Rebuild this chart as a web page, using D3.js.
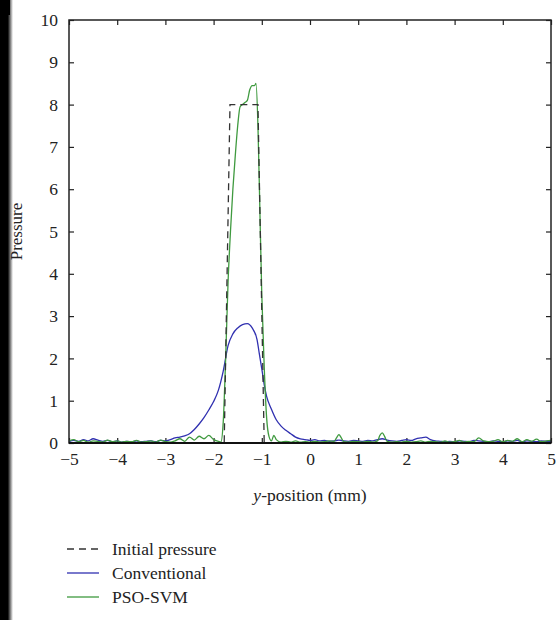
<!DOCTYPE html>
<html><head><meta charset="utf-8">
<script src="https://cdn.jsdelivr.net/npm/d3@7"></script>
<style>body{margin:0;background:#fff;}svg{display:block;}</style>
</head><body>
<svg id="c" width="556" height="620"></svg>
<script>
const xTicks = [-5,-4,-3,-2,-1,0,1,2,3,4,5];
const yTicks = [0,1,2,3,4,5,6,7,8,9,10];
const seriesNames = ["Initial pressure","Conventional","PSO-SVM"];

const initialX = [-5,-1.78,-1.66,-1.08,-0.95,5];
const initialY = [0,0,8,8,0,0];

const convX = [-5,-4.9,-4.8,-4.7,-4.6,-4.5,-4.4,-4.3,-4.2,-4.1,-4,-3.9,-3.8,-3.7,-3.6,-3.5,-3.4,-3.3,-3.2,-3.1,-3,-2.9,-2.8,-2.7,-2.6,-2.5,-2.4,-2.3,-2.2,-2.1,-2,-1.9,-1.8,-1.7,-1.6,-1.5,-1.4,-1.3,-1.2,-1.1,-1.05,-1,-0.95,-0.9,-0.8,-0.7,-0.6,-0.5,-0.4,-0.3,-0.2,-0.1,0,0.1,0.2,0.3,0.4,0.5,0.6,0.7,0.8,0.9,1,1.1,1.2,1.3,1.4,1.5,1.6,1.7,1.8,1.9,2,2.1,2.2,2.3,2.4,2.5,2.6,2.7,2.8,2.9,3,3.1,3.2,3.3,3.4,3.5,3.6,3.7,3.8,3.9,4,4.1,4.2,4.3,4.4,4.5,4.6,4.7,4.8,4.9,5];
const convY = [0.03,0.06,0.04,0.08,0.05,0.1,0.07,0.04,0.06,0.03,0.05,0.02,0.04,0.03,0.05,0.03,0.04,0.05,0.03,0.06,0.05,0.08,0.12,0.14,0.17,0.22,0.32,0.45,0.6,0.78,0.98,1.25,1.7,2.3,2.58,2.72,2.8,2.82,2.72,2.45,2.1,1.75,1.38,1.1,0.8,0.55,0.4,0.3,0.22,0.14,0.1,0.08,0.06,0.08,0.05,0.06,0.04,0.05,0.07,0.05,0.04,0.06,0.05,0.04,0.06,0.05,0.08,0.1,0.07,0.05,0.04,0.06,0.08,0.06,0.1,0.12,0.14,0.08,0.05,0.04,0.03,0.04,0.03,0.05,0.04,0.03,0.06,0.05,0.04,0.03,0.05,0.04,0.03,0.05,0.04,0.06,0.03,0.05,0.04,0.03,0.05,0.04,0.03];

const psoX = [-5,-4.9,-4.8,-4.7,-4.6,-4.5,-4.4,-4.3,-4.2,-4.1,-4,-3.9,-3.8,-3.7,-3.6,-3.5,-3.4,-3.3,-3.2,-3.1,-3,-2.9,-2.8,-2.7,-2.6,-2.5,-2.4,-2.3,-2.2,-2.1,-2,-1.9,-1.85,-1.8,-1.75,-1.7,-1.65,-1.6,-1.55,-1.5,-1.45,-1.4,-1.35,-1.3,-1.25,-1.2,-1.15,-1.12,-1.08,-1.04,-1,-0.95,-0.9,-0.85,-0.8,-0.75,-0.7,-0.6,-0.5,-0.4,-0.3,-0.2,-0.1,0,0.1,0.2,0.3,0.4,0.5,0.55,0.6,0.65,0.7,0.8,0.9,1,1.1,1.2,1.3,1.4,1.45,1.5,1.55,1.6,1.7,1.8,1.9,2,2.1,2.2,2.3,2.4,2.5,2.6,2.7,2.8,2.9,3,3.1,3.2,3.3,3.4,3.5,3.6,3.7,3.8,3.9,4,4.1,4.2,4.3,4.4,4.5,4.6,4.7,4.8,4.9,5];
const psoY = [0.05,0.08,0.03,0.06,0.02,0.05,0.04,0.02,0.07,0.03,0.05,0.02,0.04,0.03,0.06,0.02,0.03,0.05,0.02,0.07,0.03,0.02,0.05,0.1,0.04,0.14,0.07,0.16,0.1,0.18,0.08,0.04,0.02,0.5,2.0,3.8,5.0,6.0,6.8,7.5,7.95,8.0,8.05,8.1,8.35,8.45,8.45,8.5,7.5,5.5,3.5,1.8,0.6,0.15,0.05,0.18,0.08,0.02,0.04,0.02,0.05,0.02,0.03,0.02,0.04,0.02,0.03,0.05,0.04,0.12,0.2,0.12,0.03,0.02,0.04,0.03,0.02,0.04,0.02,0.05,0.18,0.24,0.15,0.04,0.02,0.03,0.02,0.04,0.02,0.03,0.05,0.02,0.04,0.03,0.02,0.05,0.02,0.03,0.06,0.02,0.04,0.03,0.12,0.05,0.03,0.04,0.08,0.03,0.06,0.04,0.1,0.03,0.08,0.04,0.09,0.03,0.05,0.06];

const svg = d3.select("#c");
const W = 556, H = 620;
const L = 69, R = 551, T = 20, B = 443;
const x = d3.scaleLinear().domain([-5,5]).range([L,R]);
const y = d3.scaleLinear().domain([0,10]).range([B,T]);
const font = "'Liberation Serif','Times New Roman',serif";

// left dark bar
const defs = svg.append("defs");
const g1 = defs.append("linearGradient").attr("id","bar").attr("x1","0").attr("x2","1");
g1.append("stop").attr("offset","0").attr("stop-color","#000");
g1.append("stop").attr("offset","0.6").attr("stop-color","#000");
g1.append("stop").attr("offset","1").attr("stop-color","#fff");
svg.append("rect").attr("x",0).attr("y",0).attr("width",13).attr("height",H).attr("fill","url(#bar)");
svg.append("rect").attr("x",0).attr("y",0).attr("width",10).attr("height",15).attr("fill","#000");

const clip = defs.append("clipPath").attr("id","pc");
clip.append("rect").attr("x",L).attr("y",T).attr("width",R-L).attr("height",B-T);

// axes (inward ticks)
const tick = 5;
const axB = svg.append("g").attr("transform",`translate(0,${B})`)
  .call(d3.axisBottom(x).tickValues(xTicks).tickSize(-tick).tickPadding(10).tickFormat(d => d < 0 ? "\u2212" + Math.abs(d) : d));
const axT = svg.append("g").attr("transform",`translate(0,${T})`)
  .call(d3.axisTop(x).tickValues(xTicks).tickSize(-tick).tickFormat(""));
const axL = svg.append("g").attr("transform",`translate(${L},0)`)
  .call(d3.axisLeft(y).tickValues(yTicks).tickSize(-tick).tickPadding(11));
const axR = svg.append("g").attr("transform",`translate(${R},0)`)
  .call(d3.axisRight(y).tickValues(yTicks).tickSize(-tick).tickFormat(""));
[axB,axT,axL,axR].forEach(a => {
  a.select(".domain").remove();
  a.selectAll(".tick line").attr("stroke","#222").attr("stroke-width",1.2);
  a.selectAll("text").attr("font-family",font).attr("font-size",17.5).attr("fill","#222");
});

const line = d3.line().x(d => x(d[0])).y(d => y(d[1]));
const smooth = d3.line().x(d => x(d[0])).y(d => y(d[1])).curve(d3.curveMonotoneX);
const plot = svg.append("g").attr("clip-path","url(#pc)");
plot.append("path").datum(convX.map((v,i)=>[v,convY[i]]))
  .attr("d",smooth).attr("fill","none").attr("stroke","#3030b0").attr("stroke-width",1.3);
plot.append("path").datum(psoX.map((v,i)=>[v,psoY[i]]))
  .attr("d",smooth).attr("fill","none").attr("stroke","#3f9a3f").attr("stroke-width",1.3);
plot.append("path").datum(initialX.map((v,i)=>[v,initialY[i]]))
  .attr("d",line).attr("fill","none").attr("stroke","#333").attr("stroke-width",1.3).attr("stroke-dasharray","7,5");

// frame
svg.append("rect").attr("x",L).attr("y",T).attr("width",R-L).attr("height",B-T)
  .attr("fill","none").attr("stroke","#222").attr("stroke-width",1.5);
svg.append("line").attr("x1",L).attr("x2",R).attr("y1",B).attr("y2",B).attr("stroke","#111").attr("stroke-width",2);

// axis titles
svg.append("text").attr("transform",`translate(22,${(T+B)/2}) rotate(-90)`)
  .attr("text-anchor","middle").attr("font-family",font).attr("font-size",17).attr("fill","#222").text("Pressure");
const xt = svg.append("text").attr("x",(L+R)/2).attr("y",501).attr("text-anchor","middle")
  .attr("font-family",font).attr("font-size",17.5).attr("fill","#222");
xt.append("tspan").attr("font-style","italic").text("y");
xt.append("tspan").text("-position (mm)");

// legend
const colors = ["#333","#3030b0","#3f9a3f"];
const dashes = ["7,5",null,null];
const lg = svg.append("g");
seriesNames.forEach((n,i) => {
  const yy = 549 + i*24;
  lg.append("line").attr("x1",67).attr("x2",99).attr("y1",yy).attr("y2",yy)
    .attr("stroke",colors[i]).attr("stroke-width",1.3).attr("stroke-dasharray",dashes[i]);
  lg.append("text").attr("x",112).attr("y",yy).attr("dy","0.35em")
    .attr("font-family",font).attr("font-size",17.5).attr("fill","#222").text(n);
});
</script>
</body></html>
